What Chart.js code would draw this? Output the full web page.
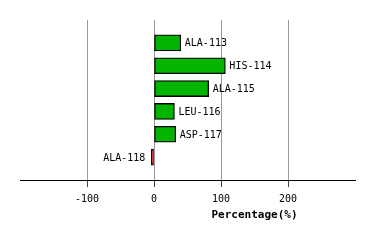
<!DOCTYPE html>
<html>
<head>
<meta charset="utf-8">
<script src="https://cdn.jsdelivr.net/npm/chart.js@4/dist/chart.umd.min.js"></script>
<style>
  html, body { margin: 0; padding: 0; background: #fff; }
  #wrap { width: 374px; height: 240px; }
</style>
</head>
<body>
<div id="wrap"><canvas id="chart"></canvas></div>
<script>
// Data
const residues = ["ALA-113", "HIS-114", "ALA-115", "LEU-116", "ASP-117", "ALA-118"];
const percentages = [40, 106.5, 81.6, 30.5, 32.4, -4];
const tickValues = [-100, 0, 100, 200];
const axisTitle = "Percentage(%)";

// one empty slot above and below the bars
const labels = ["", ...residues, ""];
const values = [null, ...percentages, null];

const ctx = document.getElementById("chart").getContext("2d");

// Labels next to bars + axis title
const barLabels = {
  id: "barLabels",
  afterDatasetsDraw(chart) {
    const c = chart.ctx;
    const meta = chart.getDatasetMeta(0);
    c.save();
    c.font = "10px 'DejaVu Sans Mono'";
    c.fillStyle = "#000";
    c.textBaseline = "middle";
    meta.data.forEach((bar, i) => {
      const v = values[i];
      if (v === null) return;
      if (v >= 0) {
        c.textAlign = "left";
        c.fillText(labels[i], bar.x + 4, bar.y + 1);
      } else {
        c.textAlign = "right";
        c.fillText(labels[i], bar.x - 6, bar.y + 1);
      }
    });
    const x = chart.scales.x;
    c.font = "bold 11px 'DejaVu Sans Mono'";
    c.textAlign = "center";
    c.fillText(axisTitle, x.getPixelForValue(150), 215);
    c.restore();
  }
};

new Chart(ctx, {
  type: "bar",
  data: {
    labels: labels,
    datasets: [{
      data: values,
      backgroundColor: values.map(v => v < 0 ? "#e00000" : "#00b400"),
      borderColor: "#000",
      borderWidth: 1.3,
      borderSkipped: false,
      barThickness: 16
    }]
  },
  options: {
    indexAxis: "y",
    responsive: true,
    maintainAspectRatio: false,
    animation: false,
    layout: { padding: { left: 20, right: 19, top: 20, bottom: 0 } },
    plugins: { legend: { display: false }, tooltip: { enabled: false } },
    scales: {
      y: { display: false, offset: false },
      x: {
        type: "linear",
        min: -200,
        max: 300,
        afterBuildTicks: s => { s.ticks = [-200, ...tickValues, 300].map(v => ({ value: v })); },
        afterFit: s => { s.height = 60; },
        border: { display: true, color: "#000", width: 1 },
        grid: {
          color: c => tickValues.includes(c.tick && c.tick.value) ? "#999" : "rgba(0,0,0,0)",
          tickColor: c => tickValues.includes(c.tick && c.tick.value) ? "#444" : "rgba(0,0,0,0)",
          tickLength: 7
        },
        ticks: {
          autoSkip: false,
          maxRotation: 0,
          padding: 6,
          color: "#000",
          font: { family: "'DejaVu Sans Mono'", size: 10 },
          callback: v => tickValues.includes(v) ? String(v) : ""
        }
      }
    }
  },
  plugins: [barLabels]
});
</script>
</body>
</html>
